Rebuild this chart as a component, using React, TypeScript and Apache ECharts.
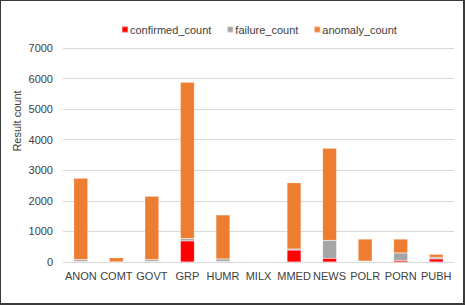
import React, { useEffect, useRef } from "react";
import * as echarts from "echarts";

const categories = ["ANON", "COMT", "GOVT", "GRP", "HUMR", "MILX", "MMED", "NEWS", "POLR", "PORN", "PUBH"];
const confirmedCount = [20, 0, 20, 690, 20, 0, 390, 120, 10, 50, 100];
const failureCount = [60, 5, 60, 75, 80, 5, 35, 590, 20, 245, 50];
const anomalyCount = [2660, 135, 2070, 5115, 1440, 20, 2165, 3010, 720, 455, 100];
const yTicks = { min: 0, max: 7000, interval: 1000 };

export default function App() {
  const ref = useRef<HTMLDivElement>(null);
  useEffect(() => {
    if (!ref.current) return;
    const chart = echarts.init(ref.current, null, { renderer: "svg" });
    const font = "'Liberation Sans', Arial, sans-serif";
    const mk = (name: string, data: number[], color: string) => ({
      name,
      type: "bar",
      stack: "total",
      data,
      barWidth: 14,
      itemStyle: { color, borderColor: "rgba(255,255,255,0.35)", borderWidth: 0.5 },
    });
    chart.setOption({
      animation: false,
      backgroundColor: "#ffffff",
      textStyle: { fontFamily: font },
      legend: {
        left: 116,
        top: 19,
        itemWidth: 6,
        itemHeight: 6,
        itemGap: 15,
        icon: "rect",
        textStyle: { fontSize: 11, color: "#404040", fontFamily: font, padding: [0, 0, 0, -3] },
        data: ["confirmed_count", "failure_count", "anomaly_count"],
      },
      grid: { left: 63, right: 11, top: 48, bottom: 43, containLabel: false },
      xAxis: {
        type: "category",
        data: categories,
        axisLine: { lineStyle: { color: "#d9d9d9" } },
        axisTick: { show: false },
        axisLabel: { color: "#404040", fontSize: 11, fontFamily: font, margin: 8, interval: 0 },
      },
      yAxis: {
        type: "value",
        min: yTicks.min,
        max: yTicks.max,
        interval: yTicks.interval,
        axisLine: { show: false },
        axisTick: { show: false },
        axisLabel: {
          color: "#404040",
          fontSize: 11,
          fontFamily: font,
          margin: 10,
          formatter: (v: number) => String(v),
        },
        splitLine: { lineStyle: { color: "#d9d9d9", width: 1 } },
      },
      graphic: [
        {
          type: "text",
          x: 17,
          y: 121,
          rotation: Math.PI / 2,
          style: {
            text: "Result count",
            fontSize: 11,
            fontFamily: font,
            fill: "#404040",
            textAlign: "center",
            textVerticalAlign: "middle",
          },
        },
      ],
      series: [
        mk("confirmed_count", confirmedCount, "#FF0000"),
        mk("failure_count", failureCount, "#A5A5A5"),
        mk("anomaly_count", anomalyCount, "#ED7D31"),
      ],
    });
    return () => chart.dispose();
  }, []);
  return (
    <div style={{ position: "absolute", left: 0, top: 0, width: 465, height: 305, background: "#fff" }}>
      <div ref={ref} style={{ position: "absolute", left: 0, top: 0, width: 465, height: 305 }} />
      <div
        style={{
          position: "absolute",
          left: 0,
          top: 0,
          width: 465,
          height: 305,
          boxSizing: "border-box",
          borderStyle: "solid",
          borderColor: "#3a3a3a",
          borderWidth: "1px 2px 2px 1px",
          pointerEvents: "none",
          zIndex: 10,
        }}
      />
    </div>
  );
}
